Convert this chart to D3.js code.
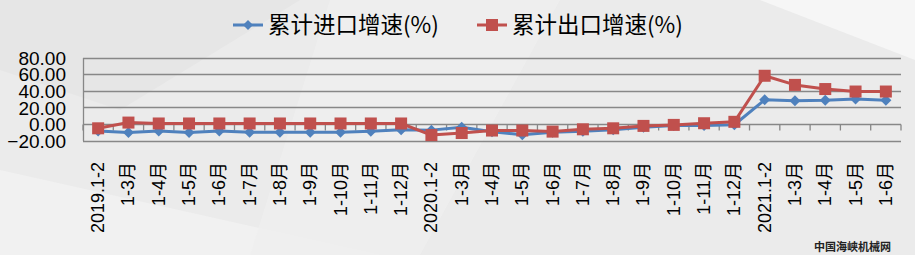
<!DOCTYPE html>
<html>
<head>
<meta charset="utf-8">
<script src="https://cdn.jsdelivr.net/npm/d3@7"></script>
<style>
  body { margin: 0; background: #ececec; }
  svg { display: block; }
</style>
</head>
<body>
<script>

// categories
var months = [
  "2019.1-2", "1-3月", "1-4月", "1-5月", "1-6月", "1-7月", "1-8月", "1-9月", "1-10月", "1-11月", "1-12月",
  "2020.1-2", "1-3月", "1-4月", "1-5月", "1-6月", "1-7月", "1-8月", "1-9月", "1-10月", "1-11月", "1-12月",
  "2021.1-2", "1-3月", "1-4月", "1-5月", "1-6月"
];

var importGrowth = [
  -8.5, -10.5, -8.5, -10.5, -8.5, -10, -10, -10, -10, -9, -7,
  -7.5, -4, -9.5, -13, -10, -9, -7, -4, -2, -2, -1,
  29, 28, 28.5, 30, 28.5
];

var exportGrowth = [
  -5.3, 1.6, 0.5, 0.5, 0.5, 0.5, 0.5, 0.5, 0.5, 0.5, 0.5,
  -13.5, -11, -8, -8, -9.3, -6.5, -5.3, -2.4, -1.2, 0.8, 2.5,
  58, 47, 42, 39, 39
];

var yTicks = [80, 60, 40, 20, 0, -20];

var seriesNames = ["累计进口增速(%)", "累计出口增速(%)"];
var seriesColors = ["#4f81bd", "#c0504d"];


var W = 915, H = 255,
    plotLeft = 83, plotRight = 901, plotTop = 57.5, plotBottom = 140.5;

var svg = d3.select("body").append("svg")
    .attr("width", W)
    .attr("height", H);

// background with soft light and dark facets
svg.append("rect").attr("width", W).attr("height", H).attr("fill", "#ebebeb");
svg.append("path").attr("d", "M0,0 L300,0 L120,110 L0,70 Z").attr("fill", "#e6e6e6");
svg.append("path").attr("d", "M0,255 L0,170 L380,255 Z").attr("fill", "#f1f1f1");
svg.append("path").attr("d", "M330,0 L560,0 L420,255 L250,255 Z").attr("fill", "#efefef").attr("opacity", 0.8);
svg.append("path").attr("d", "M760,0 L915,0 L915,60 Z").attr("fill", "#f6f6f6");

var x = d3.scaleBand()
    .domain(d3.range(months.length))
    .range([plotLeft, plotRight])
    .padding(0);

var y = d3.scaleLinear()
    .domain([-20, 80])
    .range([plotBottom, plotTop]);

// gridlines
svg.append("g")
  .selectAll("line")
  .data(yTicks)
  .join("line")
    .attr("x1", plotLeft)
    .attr("x2", plotRight)
    .attr("y1", function(d) { return Math.round(y(d)) + 0.5; })
    .attr("y2", function(d) { return Math.round(y(d)) + 0.5; })
    .attr("stroke", "#878787")
    .attr("stroke-width", 1.3);

// y axis
var yAxis = svg.append("g")
    .attr("transform", "translate(" + plotLeft + ",0)")
    .call(d3.axisLeft(y).tickValues(yTicks).tickSize(0).tickPadding(17).tickFormat(d3.format(".2f")));
yAxis.select(".domain").attr("stroke", "#878787").attr("stroke-width", 1.3);
yAxis.selectAll("text")
    .attr("font-family", "Liberation Sans, Arial, sans-serif")
    .attr("font-size", 19)
    .attr("fill", "#000")
    .attr("dy", "0.36em");

// category axis crossing at zero
var zeroY = Math.round(y(0)) + 0.5;
svg.append("g")
  .selectAll("line")
  .data(d3.range(months.length + 1))
  .join("line")
    .attr("x1", function(i) { return i < months.length ? x(i) : plotRight; })
    .attr("x2", function(i) { return i < months.length ? x(i) : plotRight; })
    .attr("y1", zeroY)
    .attr("y2", zeroY + 6)
    .attr("stroke", "#878787")
    .attr("stroke-width", 1.3);

// x labels below plot
svg.append("g")
  .selectAll("text")
  .data(months)
  .join("text")
    .attr("transform", function(d, i) {
      return "translate(" + (x(i) + x.bandwidth() / 2 + 6) + ",162) rotate(-90)";
    })
    .attr("text-anchor", "end")
    .attr("font-family", "Liberation Sans, Arial, 'Noto Sans CJK SC', sans-serif")
    .attr("font-size", 18)
    .attr("fill", "#000")
    .text(function(d) { return d; });

var line = d3.line()
    .x(function(d, i) { return x(i) + x.bandwidth() / 2; })
    .y(function(d) { return y(d); });

// import series
svg.append("path")
    .datum(importGrowth)
    .attr("d", line)
    .attr("fill", "none")
    .attr("stroke", seriesColors[0])
    .attr("stroke-width", 3)
    .attr("stroke-linejoin", "round");

svg.append("g")
  .selectAll("path")
  .data(importGrowth)
  .join("path")
    .attr("transform", function(d, i) { return "translate(" + (x(i) + x.bandwidth() / 2) + "," + y(d) + ")"; })
    .attr("d", "M0,-5.5 L5.5,0 L0,5.5 L-5.5,0 Z")
    .attr("fill", seriesColors[0]);

// export series
svg.append("path")
    .datum(exportGrowth)
    .attr("d", line)
    .attr("fill", "none")
    .attr("stroke", seriesColors[1])
    .attr("stroke-width", 3)
    .attr("stroke-linejoin", "round");

svg.append("g")
  .selectAll("rect")
  .data(exportGrowth)
  .join("rect")
    .attr("x", function(d, i) { return x(i) + x.bandwidth() / 2 - 6; })
    .attr("y", function(d) { return y(d) - 6; })
    .attr("width", 12)
    .attr("height", 12)
    .attr("fill", seriesColors[1]);

// legend
var legend = svg.append("g");
var legendX = [233, 477];

legend.selectAll("line")
  .data(seriesNames)
  .join("line")
    .attr("x1", function(d, i) { return legendX[i]; })
    .attr("x2", function(d, i) { return legendX[i] + 30; })
    .attr("y1", 25)
    .attr("y2", 25)
    .attr("stroke", function(d, i) { return seriesColors[i]; })
    .attr("stroke-width", 3);

legend.append("path")
    .attr("transform", "translate(" + (legendX[0] + 15) + ",25)")
    .attr("d", "M0,-5 L5,0 L0,5 L-5,0 Z")
    .attr("fill", seriesColors[0]);

legend.append("rect")
    .attr("x", legendX[1] + 9)
    .attr("y", 19)
    .attr("width", 12)
    .attr("height", 12)
    .attr("fill", seriesColors[1]);

legend.selectAll("text")
  .data(seriesNames)
  .join("text")
    .attr("x", function(d, i) { return legendX[i] + 35; })
    .attr("y", 25)
    .attr("dy", "0.36em")
    .attr("font-family", "'Noto Sans CJK SC', sans-serif")
    .attr("font-size", 22.5)
    .attr("fill", "#000")
    .text(function(d) { return d; });

// watermark
svg.append("text")
    .attr("x", 891)
    .attr("y", 251)
    .attr("text-anchor", "end")
    .attr("font-family", "'Noto Sans CJK SC', sans-serif")
    .attr("font-size", 11)
    .attr("font-weight", "bold")
    .attr("fill", "#222")
    .text("中国海峡机械网");

</script>
</body>
</html>
